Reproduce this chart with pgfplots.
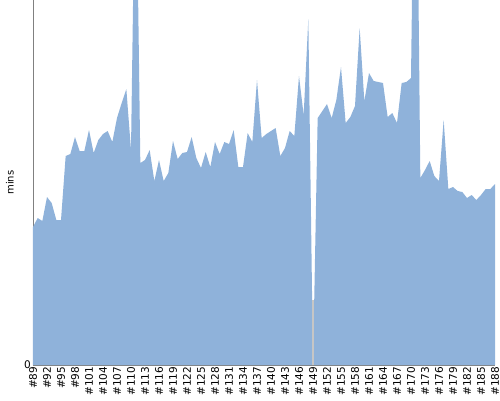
\documentclass[border=0pt]{standalone}
\usepackage{pgfplots}
\pgfplotsset{compat=1.18}
\usepackage{pgfplotstable}
\usepackage{fontspec}
\setmainfont{DejaVu Sans}
\definecolor{areablue}{RGB}{143,178,218}
\definecolor{axgray}{RGB}{128,128,128}
\pgfplotstableread{
x y
89 138
90 147
91 144
92 168
93 162
94 145
95 145
96 209
97 211
98 228
99 214
100 214
101 235
102 212
103 225
104 231
105 234
106 223
107 247
108 262
109 276
110 215
111 550
112 202
113 205
114 215
115 184
116 205
117 184
118 192
119 224
120 206
121 212
122 213
123 228
124 207
125 197
126 213
127 198
128 223
129 211
130 223
131 221
132 235
133 198
134 198
135 232
136 223
137 285
138 227
139 231
140 234
141 237
142 209
143 217
144 234
145 229
146 289
147 250
148 346
149 0
150 247
151 254
152 261
153 247
154 265
155 298
156 242
157 248
158 259
159 337
160 264
161 292
162 284
163 283
164 282
165 248
166 252
167 242
168 282
169 283
170 287
171 650
172 187
173 195
174 204
175 189
176 184
177 245
178 176
179 178
180 174
181 173
182 167
183 170
184 165
185 170
186 176
187 176
188 181
}\datatable
\begin{document}
\begin{tikzpicture}
\path[use as bounding box] (-33pt,-35pt) rectangle (467pt,365pt);
\begin{axis}[
  scale only axis,
  width=462pt, height=365pt,
  xmin=89, xmax=188, ymin=0, ymax=365,
  axis x line=bottom, axis y line=left,
  axis line style={axgray, -},
  xtick={89,92,...,188},
  xticklabels={\#89,\#92,\#95,\#98,\#101,\#104,\#107,\#110,\#113,\#116,\#119,\#122,\#125,\#128,\#131,\#134,\#137,\#140,\#143,\#146,\#149,\#152,\#155,\#158,\#161,\#164,\#167,\#170,\#173,\#176,\#179,\#182,\#185,\#188},
  ytick={0},
  yticklabels={0},
  major tick length=0pt,
  tick style={draw=none},
  xticklabel style={rotate=90, anchor=east, font=\fontsize{10.5}{12}\selectfont, inner sep=1.5pt},
  yticklabel style={font=\fontsize{10.5}{12}\selectfont, inner sep=2pt},
  ylabel={mins},
  ylabel style={font=\fontsize{11.5}{13}\selectfont},
  every axis y label/.style={at={(axis description cs:0,0.5)}, xshift=-23pt, rotate=90, anchor=center},
]
\addplot[fill=areablue, draw=none] table[x=x, y=y] {\datatable} \closedcycle;
\addplot[draw=gray!45, line width=1.6pt] coordinates {(149,0) (149,65)};
\end{axis}
\end{tikzpicture}
\end{document}
